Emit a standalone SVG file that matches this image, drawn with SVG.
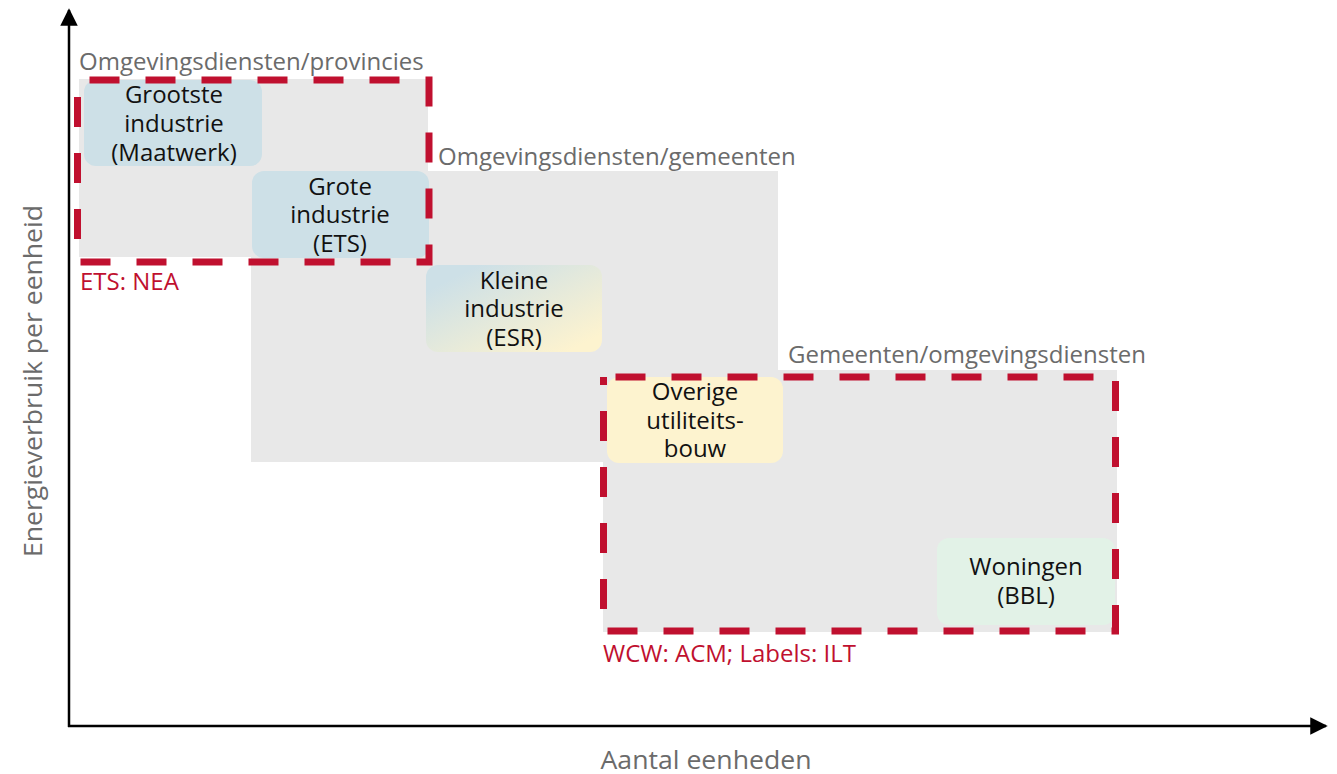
<svg xmlns="http://www.w3.org/2000/svg" width="1337" height="774" viewBox="0 0 1337 774">
<style>
.zone{fill:#e8e8e8}
.node{stroke:none}
.nt{font-family:"Open Sans","Liberation Sans",sans-serif;font-size:24px;fill:#111;text-anchor:middle}
.zl{font-family:"Open Sans","Liberation Sans",sans-serif;font-size:24px;fill:#6b6b6b}
.rl{font-family:"Open Sans","Liberation Sans",sans-serif;font-size:24px;fill:#c0102f}
.ax{font-family:"Open Sans","Liberation Sans",sans-serif;font-size:25px;fill:#6b6b6b;text-anchor:middle}
.red{fill:none;stroke:#c0102f;stroke-width:7;stroke-dasharray:30 26}
.axis{stroke:#000;stroke-width:2.5;fill:none}
</style>
<defs>
<linearGradient id="g1" x1="0" y1="0" x2="1" y2="1">
<stop offset="0.15" stop-color="#cde0e7"/>
<stop offset="0.9" stop-color="#fdf3cf"/>
</linearGradient>
<marker id="ah" viewBox="0 0 10 10" refX="9" refY="5" markerWidth="7" markerHeight="7" markerUnits="strokeWidth" orient="auto">
<path d="M0,0 L10,5 L0,10 z" fill="#000"/>
</marker>
</defs>
<rect width="1337" height="774" fill="#fff"/>
<g id="zones">
<rect class="zone" x="79" y="79" width="349" height="178"/>
<rect class="zone" x="251" y="171" width="527" height="291"/>
<rect class="zone" x="603" y="370" width="514" height="262"/>
</g>
<g id="zone-labels">
<text class="zl" x="79" y="70">Omgevingsdiensten/provincies</text>
<rect x="430" y="140" width="370" height="30" fill="#fff"/>
<text class="zl" x="438" y="165">Omgevingsdiensten/gemeenten</text>
<rect x="780" y="340" width="370" height="29" fill="#fff"/>
<text class="zl" x="788" y="363">Gemeenten/omgevingsdiensten</text>
</g>
<g id="node-grootste">
<rect class="node" x="84" y="80" width="178" height="86" rx="12" fill="#cde0e7"/>
<text class="nt" x="174" y="103">Grootste</text>
<text class="nt" x="174" y="132">industrie</text>
<text class="nt" x="174" y="161">(Maatwerk)</text>
</g>
<g id="node-grote">
<rect class="node" x="252" y="171" width="177" height="87" rx="12" fill="#cde0e7"/>
<text class="nt" x="340" y="195">Grote</text>
<text class="nt" x="340" y="223">industrie</text>
<text class="nt" x="340" y="252">(ETS)</text>
</g>
<g id="node-kleine">
<rect class="node" x="426" y="265" width="176" height="87" rx="12" fill="url(#g1)"/>
<text class="nt" x="514" y="289">Kleine</text>
<text class="nt" x="514" y="317">industrie</text>
<text class="nt" x="514" y="346">(ESR)</text>
</g>
<g id="node-overige">
<rect class="node" x="607" y="377" width="176" height="86" rx="12" fill="#fdf3cf"/>
<text class="nt" x="695" y="400">Overige</text>
<text class="nt" x="695" y="429">utiliteits-</text>
<text class="nt" x="695" y="457">bouw</text>
</g>
<g id="node-woningen">
<rect class="node" x="937" y="538" width="178" height="87" rx="12" fill="#e2f2e7"/>
<text class="nt" x="1026" y="575">Woningen</text>
<text class="nt" x="1026" y="604">(BBL)</text>
</g>
<g id="regulators">
<rect class="red" x="77.5" y="80" width="351.5" height="182" stroke-dashoffset="-12"/>
<text class="rl" x="80" y="290">ETS: NEA</text>
<rect class="red" x="603.5" y="377" width="512" height="254" stroke-dashoffset="-12"/>
<text class="rl" x="603" y="662">WCW: ACM; Labels: ILT</text>
</g>
<g id="connectors">
<line class="axis" x1="69" y1="727" x2="69" y2="10" marker-end="url(#ah)"/>
<line class="axis" x1="68" y1="726" x2="1326" y2="726" marker-end="url(#ah)"/>
</g>
<g id="axis-labels">
<text class="ax" x="706" y="769" textLength="211" lengthAdjust="spacingAndGlyphs">Aantal eenheden</text>
<text class="ax" transform="translate(42,381) rotate(-90)" x="0" y="0" textLength="352" lengthAdjust="spacingAndGlyphs">Energieverbruik per eenheid</text>
</g>
</svg>
